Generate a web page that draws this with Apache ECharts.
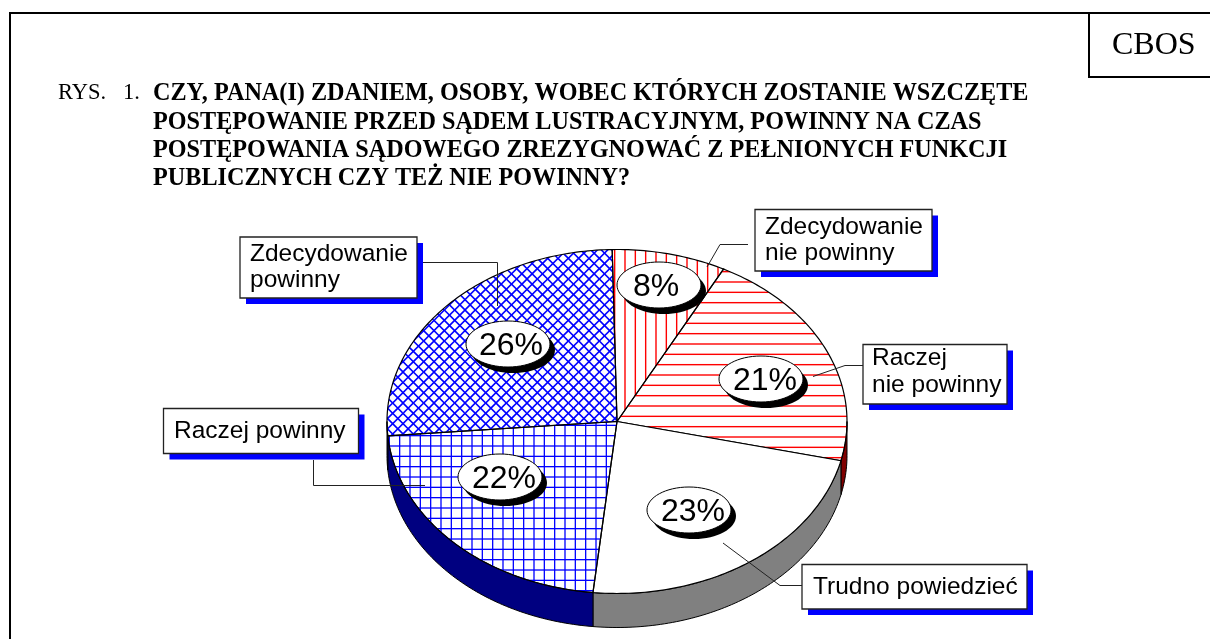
<!DOCTYPE html>
<html>
<head>
<meta charset="utf-8">
<title>CBOS RYS. 1</title>
<style>
  html, body { margin: 0; padding: 0; background: #fff; }
  #chart { width: 1210px; height: 639px; }
</style>
<script src="https://cdn.jsdelivr.net/npm/echarts@6/dist/echarts.min.js"></script>
</head>
<body>
<div id="chart"></div>
<script>
// data, clockwise from the top of the pie
const categories = ['Zdecydowanie nie powinny', 'Raczej nie powinny', 'Trudno powiedzieć', 'Raczej powinny', 'Zdecydowanie powinny']
const shares = [8, 21, 23, 22, 26]
const calloutLines = [['Zdecydowanie', 'nie powinny'], ['Raczej', 'nie powinny'], ['Trudno powiedzieć'], ['Raczej powinny'], ['Zdecydowanie', 'powinny']]
const titleLines = [
  'CZY, PANA(I) ZDANIEM, OSOBY, WOBEC KTÓRYCH ZOSTANIE WSZCZĘTE',
  'POSTĘPOWANIE PRZED SĄDEM LUSTRACYJNYM, POWINNY NA CZAS',
  'POSTĘPOWANIA SĄDOWEGO ZREZYGNOWAĆ Z PEŁNIONYCH FUNKCJI',
  'PUBLICZNYCH CZY TEŻ NIE POWINNY?'
]

// layout, same order as categories
const pie = { cx: 617, cy: 421.5, rx: 230, ry: 172, depth: 34, start: -1.2 }
const ovalCentres = [[659, 285], [761, 379], [689, 510], [500, 477], [508, 344]]
const ovalTextShift = [-3, 4, 4, 4, 3]
const calloutBoxes = [[755, 209.5, 932, 271], [863, 344.5, 1007, 404], [802, 564.5, 1027, 609], [163.5, 408.5, 358.5, 453.5], [240, 237, 417, 298]]
const calloutTextX = [765, 872, 813, 174, 250]
const calloutTextY = [227, 358.5, 587, 431, 254]
const leaders = [
  [[748, 244.5], [720, 244.5], [707, 267]],
  [[863, 365.5], [845, 365.5], [813, 376.5]],
  [[802, 585.5], [780, 585.5], [723, 543]],
  [[313.5, 460], [313.5, 485.5], [425, 485.5]],
  [[423, 262.5], [497.5, 262.5], [497.5, 306]]
]
const wallColors = ['#800000', '#800000', '#808080', '#000080', '#000080']

// hatch tiles, 31px holds three 10.33px periods
const hatchTile = (draw) => {
  const canvas = document.createElement('canvas')
  canvas.width = 31
  canvas.height = 31
  draw(canvas.getContext('2d'))
  return { image: canvas, repeat: 'repeat' }
}
const strokeLines = (ctx, color, width, segments) => {
  ctx.strokeStyle = color
  ctx.lineWidth = width
  segments.forEach(s => {
    ctx.beginPath()
    ctx.moveTo(s[0], s[1])
    ctx.lineTo(s[2], s[3])
    ctx.stroke()
  })
}
const vertical = (offset) => [0, 1, 2].map(i => [offset + i * 31 / 3, 0, offset + i * 31 / 3, 31])
const horizontal = (offset) => [0, 1, 2].map(i => [0, offset + i * 31 / 3, 31, offset + i * 31 / 3])
const diagonal = () => {
  const out = []
  for (let i = -3; i <= 6; i++) {
    const k = i * 31 / 3
    out.push([k, 0, k + 31, 31])
    out.push([k, 0, k - 31, 31])
  }
  return out
}
const sliceFills = [
  hatchTile(ctx => strokeLines(ctx, '#ff0000', 1.4, vertical(5))),
  hatchTile(ctx => strokeLines(ctx, '#ff0000', 1.4, horizontal(3))),
  '#ffffff',
  hatchTile(ctx => strokeLines(ctx, '#0000ff', 1.3, vertical(7).concat(horizontal(1.67)))),
  hatchTile(ctx => strokeLines(ctx, '#0000ff', 1.6, diagonal()))
]

// slice i spans these angles, degrees clockwise from the top
const sliceAngles = (i) => {
  const total = shares.reduce((a, b) => a + b, 0)
  const before = shares.slice(0, i).reduce((a, b) => a + b, 0)
  return [pie.start + before / total * 360, pie.start + (before + shares[i]) / total * 360]
}
const rimPoint = (deg, dy) => {
  const t = deg * Math.PI / 180
  return [pie.cx + pie.rx * Math.sin(t), pie.cy - pie.ry * Math.cos(t) + dy]
}
const rimArc = (from, to, dy) => {
  const steps = Math.max(2, Math.ceil(Math.abs(to - from)))
  const pts = []
  for (let s = 0; s <= steps; s++) {
    pts.push(rimPoint(from + (to - from) * s / steps, dy))
  }
  return pts
}

const renderWall = (params) => {
  const [a, b] = sliceAngles(params.dataIndex)
  const from = Math.max(a, 90)
  const to = Math.min(b, 270)
  if (from >= to) return { type: 'group', children: [] }
  return {
    type: 'polygon',
    shape: { points: rimArc(from, to, 0).concat(rimArc(to, from, pie.depth)) },
    style: { fill: wallColors[params.dataIndex], stroke: '#000', lineWidth: 1 }
  }
}

const renderFace = (params) => {
  const [a, b] = sliceAngles(params.dataIndex)
  return {
    type: 'polygon',
    shape: { points: [[pie.cx, pie.cy]].concat(rimArc(a, b, 0)) },
    style: { fill: sliceFills[params.dataIndex], stroke: '#000', lineWidth: 1.2 }
  }
}

const renderOval = (params, api) => {
  const [x, y] = ovalCentres[params.dataIndex]
  return {
    type: 'group',
    children: [
      { type: 'ellipse', shape: { cx: x + 5, cy: y + 6, rx: 42, ry: 23 }, style: { fill: '#000' } },
      { type: 'ellipse', shape: { cx: x, cy: y, rx: 42, ry: 23 }, style: { fill: '#fff', stroke: '#000', lineWidth: 1 } },
      {
        type: 'text',
        style: {
          text: api.value(0) + '%', x: x + ovalTextShift[params.dataIndex], y: y + 2,
          font: '32px "Liberation Sans"', fill: '#000', textAlign: 'center', textVerticalAlign: 'middle'
        }
      }
    ]
  }
}

const renderCallout = (params) => {
  const i = params.dataIndex
  const [x0, y0, x1, y1] = calloutBoxes[i]
  return {
    type: 'group',
    children: [
      { type: 'polyline', shape: { points: leaders[i] }, style: { fill: 'none', stroke: '#222', lineWidth: 1 } },
      { type: 'rect', shape: { x: x0 + 6, y: y0 + 6, width: x1 - x0, height: y1 - y0 }, style: { fill: '#0000ff' } },
      { type: 'rect', shape: { x: x0, y: y0, width: x1 - x0, height: y1 - y0 }, style: { fill: '#fff', stroke: '#222', lineWidth: 1.3 } },
      ...calloutLines[i].map((line, n) => ({
        type: 'text',
        style: {
          text: line, x: calloutTextX[i], y: calloutTextY[i] + n * 26.3,
          font: '24.5px "Liberation Sans"', fill: '#000', textAlign: 'left', textVerticalAlign: 'middle'
        }
      }))
    ]
  }
}

const pieData = shares.map((v, i) => ({ name: categories[i], value: v }))

const serif = '"Liberation Serif"'
const option = {
  animation: false,
  backgroundColor: '#fff',
  graphic: [
    { type: 'line', shape: { x1: 10, y1: 13, x2: 10, y2: 639 }, style: { stroke: '#000', lineWidth: 2 } },
    { type: 'line', shape: { x1: 9, y1: 13, x2: 1210, y2: 13 }, style: { stroke: '#000', lineWidth: 2 } },
    { type: 'line', shape: { x1: 1089, y1: 13, x2: 1089, y2: 77 }, style: { stroke: '#000', lineWidth: 2 } },
    { type: 'line', shape: { x1: 1088, y1: 77, x2: 1210, y2: 77 }, style: { stroke: '#000', lineWidth: 2 } },
    { type: 'text', x: 1112, y: 30, style: { text: 'CBOS', font: '32px ' + serif, fill: '#000' } },
    { type: 'text', x: 58, y: 82, style: { text: 'RYS.   1.', font: '22.5px ' + serif, fill: '#000' } },
    ...titleLines.map((line, i) => ({
      type: 'text', x: 153, y: 82 + i * 28.3,
      style: { text: line, font: 'bold 24.2px ' + serif, fill: '#000' }
    }))
  ],
  series: [
    { type: 'custom', name: 'wall', coordinateSystem: 'none', data: pieData, renderItem: renderWall, z: 1, silent: true },
    { type: 'custom', name: 'face', coordinateSystem: 'none', data: pieData, renderItem: renderFace, z: 2, silent: true },
    { type: 'custom', name: 'oval', coordinateSystem: 'none', data: pieData, renderItem: renderOval, z: 3, silent: true },
    { type: 'custom', name: 'callout', coordinateSystem: 'none', data: pieData, renderItem: renderCallout, z: 4, silent: true }
  ]
}

const chart = echarts.init(document.getElementById('chart'))
chart.setOption(option)
</script>
</body>
</html>
